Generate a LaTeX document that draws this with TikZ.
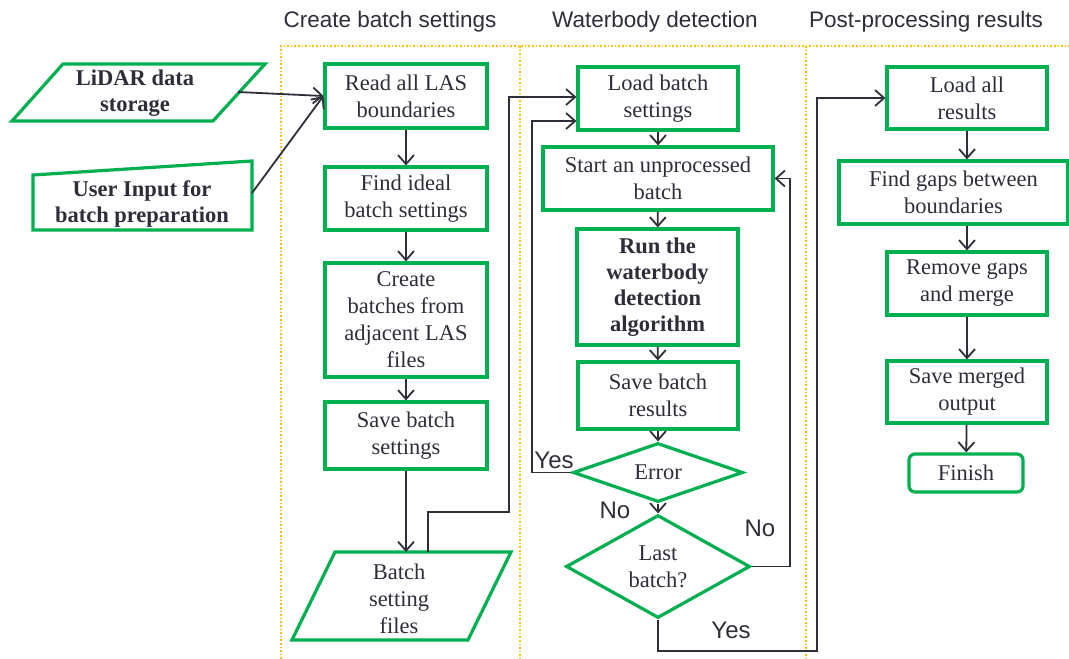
\documentclass[tikz,border=0pt]{standalone}
\usepackage{fontspec}
\setmainfont{Liberation Serif}
\newfontfamily\labelfont{Liberation Sans}
\usetikzlibrary{arrows.meta,shapes.geometric,calc}

\definecolor{boxgreen}{HTML}{00B050}
\definecolor{inkgrey}{HTML}{2E2E3A}
\definecolor{laneorange}{HTML}{FFC000}

\tikzset{
  txt/.style={font=\fontsize{22.5}{27}\selectfont, text=inkgrey, align=center},
  boldtxt/.style={font=\fontsize{22.5}{26}\selectfont\bfseries, text=inkgrey, align=center},
  procbox/.style={draw=boxgreen, line width=3.2pt, rectangle, inner sep=0pt, txt},
  decision/.style={draw=boxgreen, line width=3.2pt, diamond, aspect=2.9, inner sep=0pt, txt},
  flow/.style={draw=inkgrey, line width=1.8pt, -{Straight Barb[length=9pt,width=16pt,line width=1.8pt]}},
  lane/.style={draw=laneorange, line width=1.6pt, dotted},
  lanetitle/.style={font=\labelfont\fontsize{22.5}{24}\selectfont, text=inkgrey},
  branch/.style={font=\labelfont\fontsize{24}{26}\selectfont, text=inkgrey},
}

\begin{document}
\begin{tikzpicture}[x=1pt,y=-1pt]
  \useasboundingbox (0,0) rectangle (1069,659);

  % swim lanes
  \draw[lane] (281,659) -- (281,46) -- (1069,46);
  \draw[lane] (520,46) -- (520,659);
  \draw[lane] (806,46) -- (806,659);
  \node[lanetitle] (t1) at (390,22) {Create batch settings};
  \node[lanetitle] (t2) at (655,22) {Waterbody detection};
  \node[lanetitle] (t3) at (926,22) {Post-processing results};

  % inputs
  \draw[draw=boxgreen, line width=3.2pt, line join=miter]
    (63,64) -- (265,64) -- (213,121) -- (12,121) -- cycle;
  \node[boldtxt] (lidar) at (135,93) {LiDAR data\\storage};
  \coordinate (lidarout) at (238,92);

  \draw[draw=boxgreen, line width=3.2pt, line join=miter]
    (33,175) -- (252,161) -- (252,230) -- (33,230) -- cycle;
  \node[boldtxt] (user) at (142,204) {User Input for\\batch preparation};
  \coordinate (userout) at (252,193);

  % column 1
  \node[procbox, minimum width=162pt, minimum height=64pt] (read) at (406,96) {Read all LAS\\boundaries};
  \node[procbox, minimum width=162pt, minimum height=63pt] (find) at (406,198.5) {Find ideal\\batch settings};
  \node[procbox, minimum width=162pt, minimum height=114pt] (create) at (406,320) {Create\\batches from\\adjacent LAS\\files};
  \node[procbox, minimum width=162pt, minimum height=67pt] (savebs) at (406,435.5) {Save batch\\settings};

  \draw[draw=boxgreen, line width=3.2pt, line join=miter]
    (335,552) -- (511,552) -- (468,640) -- (292,640) -- cycle;
  \node[txt] (files) at (399,599) {Batch\\setting\\files};

  % column 2
  \node[procbox, minimum width=160pt, minimum height=63pt] (load) at (658,98.5) {Load batch\\settings};
  \node[procbox, minimum width=230pt, minimum height=63pt] (start) at (658,178.5) {Start an unprocessed\\batch};
  \node[procbox, minimum width=161pt, minimum height=116pt] (run) at (657.5,287) {};
  \node[boldtxt] (runtxt) at (657.5,287) {Run the\\waterbody\\detection\\algorithm};
  \node[procbox, minimum width=160pt, minimum height=67pt] (saveres) at (658,395.5) {Save batch\\results};
  \node[decision, minimum width=170pt, minimum height=59pt] (error) at (658,472.5) {Error};
  \node[decision, minimum width=184pt, minimum height=103pt] (last) at (658,566.5) {Last\\batch?};

  % column 3
  \node[procbox, minimum width=160pt, minimum height=62pt] (loadall) at (967,98) {Load all\\results};
  \node[procbox, minimum width=229pt, minimum height=63pt] (gaps) at (953.5,192.5) {Find gaps between\\boundaries};
  \node[procbox, minimum width=160pt, minimum height=63pt] (remove) at (967,283.5) {Remove gaps\\and merge};
  \node[procbox, minimum width=160pt, minimum height=62pt] (merged) at (967,392) {Save merged\\output};
  \node[procbox, rounded corners=6pt, minimum width=114pt, minimum height=38pt] (finish) at (966,473) {Finish};

  % connectors: inputs
  \draw[flow] (lidarout) -- (read.west);
  \draw[flow] (userout) -- (read.west);

  % connectors: column 1
  \draw[flow] (read) -- (find);
  \draw[flow] (find) -- (create);
  \draw[flow] (create) -- (savebs);
  \draw[flow] (savebs.south) -- (406,552);
  \draw[flow] (428,552) -- (428,512) -- (509,512) -- (509,97) -- (load.west |- 0,97);

  % connectors: column 2
  \draw[flow] (load) -- (start);
  \draw[flow] (start) -- (run);
  \draw[flow] (run) -- (saveres);
  \draw[flow] (saveres) -- (error);
  \draw[flow] (error) -- (last);
  \draw[flow] (error.west) -- (532,472.5) -- (532,121) -- (load.west |- 0,121);
  \draw[flow] (last.east) -- (790,566.5) -- (790,178.5) -- (start.east);
  \draw[flow] (last.south) -- (658,651) -- (817,651) -- (817,98) -- (loadall.west);

  \node[branch] (yes1) at (554,460) {Yes};
  \node[branch] (no1) at (615,510) {No};
  \node[branch] (no2) at (760,528) {No};
  \node[branch] (yes2) at (731,630) {Yes};

  % connectors: column 3
  \draw[flow] (loadall) -- (gaps.north -| loadall.south);
  \draw[flow] (gaps.south -| remove.north) -- (remove);
  \draw[flow] (remove) -- (merged);
  \draw[flow] (merged) -- (finish);
\end{tikzpicture}
\end{document}
